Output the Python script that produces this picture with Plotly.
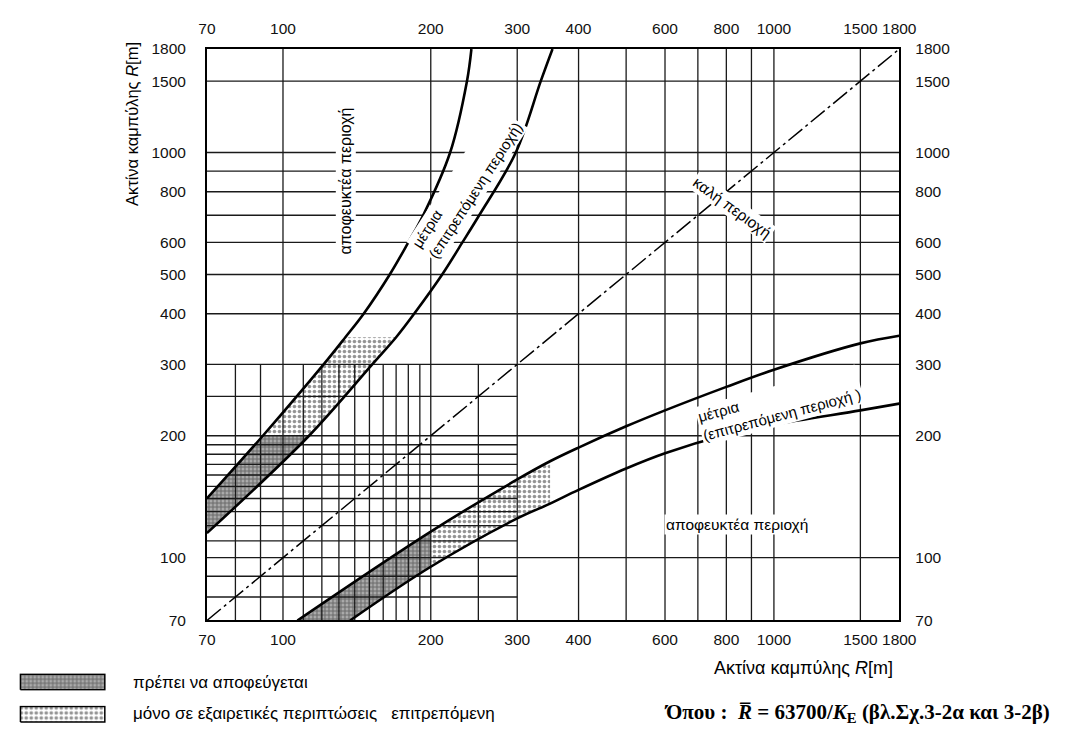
import numpy as np
import plotly.graph_objects as go

# ---------------- data ----------------
axis_range = [70, 1800]
x_tick_vals = [70, 100, 200, 300, 400, 600, 800, 1000, 1500, 1800]
y_tick_vals = [70, 100, 200, 300, 400, 500, 600, 800, 1000, 1500, 1800]
major_grid = [100, 200, 300, 400, 500, 600, 700, 800, 900, 1000, 1500]
fine_grid = [80, 90, 110, 120, 130, 140, 150, 160, 170, 180, 190, 250]
fine_extent = [70, 300]

# steep pair (left/top)
A_x = [70, 91, 121, 134, 146, 165, 180, 193, 219, 237, 242]
A_y = [140, 200, 300, 350, 400, 500, 600, 700, 1000, 1500, 1800]
B_x = [70, 113, 152, 170, 185, 211, 232, 251, 298, 335, 354]
B_y = [115, 200, 300, 350, 400, 500, 600, 700, 1000, 1500, 1800]
# flat pair (right/bottom)
C_x = [107, 200, 300, 350, 400, 500, 600, 800, 1000, 1500, 1800]
C_y = [70, 116, 156, 173, 187, 211, 231, 264, 291, 338, 353]
D_x = [137, 200, 300, 350, 400, 500, 600, 800, 1000, 1500, 1800]
D_y = [70, 95, 125, 136, 147, 166, 181, 201, 213, 231, 240]
diag = [70, 1800]

dark_limit = 200      # "πρέπει να αποφεύγεται" up to this radius
dotted_limit = 350    # "μόνο σε εξαιρετικές περιπτώσεις" up to this radius
swatch_x = [0, 1, 1, 0, 0]
swatch_y = [0, 0, 1, 1, 0]

FONT = "Liberation Sans, Arial, sans-serif"
DARK = dict(shape="+", size=4, solidity=0.45, fgcolor="#262626", bgcolor="#ababab")
DOTS = dict(shape=".", size=5, solidity=0.42, fgcolor="#262626", bgcolor="white")


def band(x1, y1, x2, y2, key, lo, hi):
    """polygon between curve 1 and curve 2 where key coordinate in [lo, hi]"""
    k1 = y1 if key == "y" else x1
    k2 = y2 if key == "y" else x2
    p1 = [(a, b) for a, b, k in zip(x1, y1, k1) if lo <= k <= hi]
    p2 = [(a, b) for a, b, k in zip(x2, y2, k2) if lo <= k <= hi][::-1]
    pts = p1 + p2 + p1[:1]
    return [p[0] for p in pts], [p[1] for p in pts]


fig = go.Figure()

# hatched regions
for key, cx1, cy1, cx2, cy2 in [("y", A_x, A_y, B_x, B_y), ("x", C_x, C_y, D_x, D_y)]:
    bx, by = band(cx1, cy1, cx2, cy2, key, 0, dark_limit)
    fig.add_trace(go.Scatter(x=bx, y=by, mode="lines", fill="toself", line=dict(width=0),
                             fillcolor="rgba(0,0,0,0)", fillpattern=DARK, hoverinfo="skip"))
    bx, by = band(cx1, cy1, cx2, cy2, key, dark_limit, dotted_limit)
    fig.add_trace(go.Scatter(x=bx, y=by, mode="lines", fill="toself", line=dict(width=0),
                             fillcolor="rgba(0,0,0,0)", fillpattern=DOTS, hoverinfo="skip"))

# grid lines
gx, gy = [], []
for v in major_grid:
    gx += [v, v, None]
    gy += [axis_range[0], axis_range[1], None]
    gx += [axis_range[0], axis_range[1], None]
    gy += [v, v, None]
for v in fine_grid:
    gx += [v, v, None]
    gy += [fine_extent[0], fine_extent[1], None]
    gx += [fine_extent[0], fine_extent[1], None]
    gy += [v, v, None]
fig.add_trace(go.Scatter(x=gx, y=gy, mode="lines", line=dict(color="#1a1a1a", width=1.3),
                         hoverinfo="skip"))

# diagonal
fig.add_trace(go.Scatter(x=diag, y=diag, mode="lines",
                         line=dict(color="black", width=1.5, dash="18px,4px,3px,4px")))

# curves
for cx, cy in [(A_x, A_y), (B_x, B_y), (C_x, C_y), (D_x, D_y)]:
    fig.add_trace(go.Scatter(x=cx, y=cy, mode="lines",
                             line=dict(color="black", width=2.6, shape="spline", smoothing=1.0)))

# dummy for top/right axes
fig.add_trace(go.Scatter(x=[axis_range[0]], y=[axis_range[0]], xaxis="x2", yaxis="y2",
                         mode="markers", marker=dict(opacity=0), hoverinfo="skip"))

# legend swatches
fig.add_trace(go.Scatter(x=swatch_x, y=swatch_y, xaxis="x3", yaxis="y3", mode="lines", fill="toself",
                         fillcolor="rgba(0,0,0,0)", fillpattern=DARK, line=dict(color="black", width=1.5)))
fig.add_trace(go.Scatter(x=swatch_x, y=swatch_y, xaxis="x4", yaxis="y4", mode="lines", fill="toself",
                         fillcolor="rgba(0,0,0,0)", fillpattern=DOTS, line=dict(color="black", width=1.5)))

W, H = 1083, 733
L, R, T, B = 203, 913, 41, 626
xdom = [L / W, R / W]
ydom = [1 - B / H, 1 - T / H]
lr = [np.log10(axis_range[0]), np.log10(axis_range[1])]
tickfont = dict(family=FONT, size=15.5, color="#111")
x_tick_text = [str(v) for v in x_tick_vals]
y_tick_text = [str(v) for v in y_tick_vals]

common = dict(type="log", range=lr, showgrid=False, zeroline=False, tickfont=tickfont,
              ticks="outside", tickcolor="rgba(0,0,0,0)", tickangle=0)
fig.update_layout(
    width=W, height=H, margin=dict(l=0, r=0, t=0, b=0),
    paper_bgcolor="white", plot_bgcolor="white", showlegend=False,
    font=dict(family=FONT, size=16, color="black"),
    xaxis=dict(domain=xdom, tickvals=x_tick_vals, ticktext=x_tick_text,
               showline=True, mirror=True, linecolor="black", linewidth=1.8, ticklen=4, **common),
    yaxis=dict(domain=ydom, tickvals=y_tick_vals, ticktext=y_tick_text,
               showline=True, mirror=True, linecolor="black", linewidth=1.8, ticklen=16, **common),
    xaxis2=dict(overlaying="x", side="top", anchor="y", tickvals=x_tick_vals,
                ticktext=x_tick_text, ticklen=8, **common),
    yaxis2=dict(overlaying="y", side="right", anchor="x", tickvals=y_tick_vals,
                ticktext=y_tick_text, ticklen=12, **common),
    xaxis3=dict(domain=[10 / W, 100 / W], range=[-0.02, 1.02], visible=False, anchor="y3"),
    yaxis3=dict(domain=[1 - 698 / H, 1 - 680 / H], range=[-0.06, 1.06], visible=False, anchor="x3"),
    xaxis4=dict(domain=[10 / W, 100 / W], range=[-0.02, 1.02], visible=False, anchor="y4"),
    yaxis4=dict(domain=[1 - 731 / H, 1 - 713 / H], range=[-0.06, 1.06], visible=False, anchor="x4"),
)

lg = np.log10
C_ = dict(xanchor="center", yanchor="middle", showarrow=False)
ann = []
# in-plot labels
ann.append(dict(x=lg(134), y=lg(850), xref="x", yref="y", text="αποφευκτέα περιοχή", textangle=-90,
                bgcolor="white", font=dict(size=16), **C_))
ann.append(dict(x=lg(238), y=lg(832), xref="x", yref="y", text="μέτρια<br>(επιτρεπόμενη περιοχή)",
                textangle=-57, bgcolor="white", align="left", font=dict(size=15), **C_))
ann.append(dict(x=lg(1025), y=lg(238), xref="x", yref="y", text="μέτρια<br>(επιτρεπόμενη περιοχή )",
                textangle=-15, bgcolor="white", align="left", font=dict(size=15), **C_))
ann.append(dict(x=lg(840), y=lg(121), xref="x", yref="y", text="αποφευκτέα περιοχή",
                bgcolor="white", font=dict(size=15.5), **C_))
ann.append(dict(x=lg(822), y=lg(731), xref="x", yref="y", text="καλή περιοχή", textangle=36,
                bgcolor="white", font=dict(size=15.5), **C_))
# axis titles
ann.append(dict(x=126 / W, y=1 - 118 / H, xref="paper", yref="paper", text="Ακτίνα καμπύλης <i>R</i>[m]",
                textangle=-90, font=dict(size=16.5), **C_))
ann.append(dict(x=909 / W, y=1 - 675 / H, xref="paper", yref="paper", text="Ακτίνα καμπύλης <i>R</i>[m]",
                xanchor="right", yanchor="middle", showarrow=False, font=dict(size=18)))
# legend texts
ann.append(dict(x=125 / W, y=1 - 689 / H, xref="paper", yref="paper", text="πρέπει να αποφεύγεται",
                xanchor="left", yanchor="middle", showarrow=False, font=dict(size=17)))
ann.append(dict(x=125 / W, y=1 - 721 / H, xref="paper", yref="paper",
                text="μόνο σε εξαιρετικές περιπτώσεις\u00a0\u00a0\u00a0επιτρεπόμενη",
                xanchor="left", yanchor="middle", showarrow=False, font=dict(size=17)))
ann.append(dict(x=1070 / W, y=1 - 721 / H, xref="paper", yref="paper",
                text="<b>Όπου :  <i>R̅</i> = 63700/<i>K</i><sub>E</sub> (βλ.Σχ.3-2α και 3-2β)</b>",
                xanchor="right", yanchor="middle", showarrow=False,
                font=dict(family="Liberation Serif, Times New Roman, serif", size=21)))
fig.update_layout(annotations=ann)

fig.write_html("out.html")
